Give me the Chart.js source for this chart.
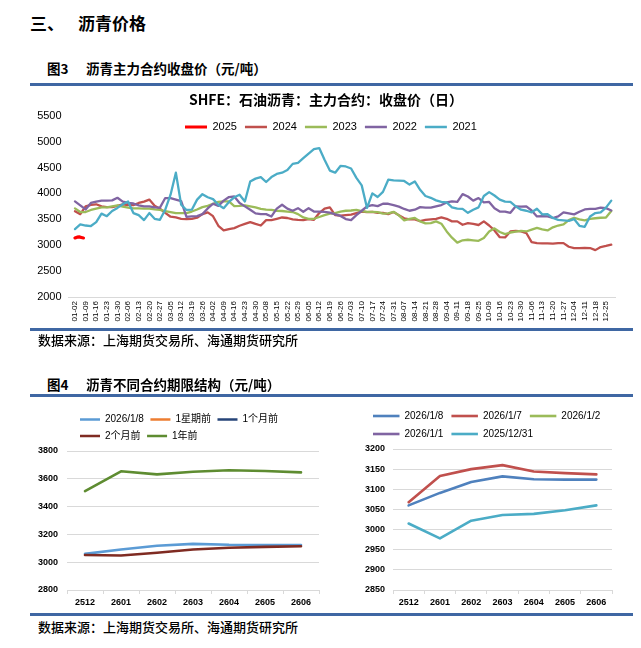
<!DOCTYPE html>
<html><head><meta charset="utf-8">
<script src="https://cdn.jsdelivr.net/npm/chart.js@4.4.1/dist/chart.umd.min.js"></script>
<style>
html,body{margin:0;padding:0;background:#fff;}
body{width:641px;height:648px;position:relative;overflow:hidden;font-family:'Noto Sans CJK SC','Liberation Sans',sans-serif;color:#000;}
.t{position:absolute;white-space:nowrap;z-index:2;}
.h{font-size:17px;line-height:17px;font-weight:700;}
.cap{font-size:13.5px;line-height:14px;font-weight:700;}
.src{font-size:13px;line-height:13px;font-weight:500;}
.rule{position:absolute;left:30px;width:603px;height:3px;background:#3F67A3;z-index:2;}
canvas{position:absolute;z-index:1;}
</style></head><body>
<div class="t h" style="left:30px;top:14px">三、</div>
<div class="t h" style="left:78px;top:14px">沥青价格</div>
<div class="t cap" style="left:47px;top:61px">图3</div>
<div class="t cap" style="left:86px;top:61px">沥青主力合约收盘价（元/吨）</div>
<div class="rule" style="top:83px"></div>
<canvas id="c1" width="641" height="268" style="left:0;top:88px;width:641px;height:268px"></canvas>
<div class="rule" style="top:328px"></div>
<div class="t src" style="left:38px;top:333px">数据来源：上海期货交易所、海通期货研究所</div>
<div class="t cap" style="left:47px;top:377px">图4</div>
<div class="t cap" style="left:86px;top:377px">沥青不同合约期限结构（元/吨）</div>
<div class="rule" style="top:394px"></div>
<canvas id="c2" width="320" height="215" style="left:0;top:395px;width:320px;height:215px"></canvas>
<canvas id="c3" width="321" height="215" style="left:320px;top:395px;width:321px;height:215px"></canvas>
<div class="rule" style="top:613px"></div>
<div class="t src" style="left:38px;top:620px">数据来源：上海期货交易所、海通期货研究所</div>
<script>
// ---------- main chart data (x step: half label interval) ----------
const weekLabels = ['01-02','01-09','01-16','01-23','01-30','02-06','02-13','02-20','02-27','03-05','03-12','03-19','03-26','04-02','04-09','04-16','04-23','04-30','05-08','05-15','05-22','05-29','06-05','06-12','06-19','06-26','07-03','07-10','07-17','07-24','07-31','08-07','08-14','08-21','08-28','09-04','09-11','09-18','09-25','10-09','10-16','10-23','10-30','11-06','11-13','11-20','11-27','12-04','12-11','12-18','12-25'];
const seriesNames = ['2025','2024','2023','2022','2021'];
const s2025 = [3140,3155,3160,3150,3140];
const s2024 = [3655,3600,3750,3780,3790,3750,3735,3735,3760,3790,
  3775,3775,3815,3840,3880,3760,3705,3625,3550,3535,
  3510,3505,3510,3530,3600,3635,3560,3375,3285,3310,
  3330,3375,3410,3445,3410,3380,3485,3485,3510,3535,
  3525,3500,3490,3485,3505,3490,3620,3705,3730,3580,
  3570,3580,3590,3620,3650,3640,3645,3625,3625,3600,
  3640,3580,3520,3500,3500,3465,3490,3500,3510,3535,
  3510,3460,3460,3395,3425,3410,3390,3460,3380,3285,
  3155,3150,3265,3275,3265,3235,3060,3040,3035,3035,
  3030,3040,3040,2970,2945,2945,2950,2945,2905,2965,
  2985,3010];
const s2023 = [3710,3640,3640,3680,3705,3730,3730,3750,3770,3745,
  3725,3710,3710,3705,3705,3690,3680,3660,3640,3620,
  3620,3620,3650,3690,3735,3760,3800,3835,3845,3845,
  3755,3760,3770,3750,3730,3700,3685,3680,3665,3660,
  3650,3640,3600,3535,3510,3510,3545,3580,3610,3620,
  3650,3665,3670,3680,3660,3645,3645,3640,3610,3615,
  3645,3575,3480,3510,3525,3460,3420,3425,3460,3415,
  3265,3145,3050,3095,3105,3095,3085,3140,3265,3325,
  3255,3215,3245,3260,3275,3265,3300,3335,3305,3285,
  3345,3380,3400,3485,3530,3500,3480,3510,3520,3530,
  3535,3660];
const s2022 = [3845,3770,3690,3815,3840,3860,3860,3865,3915,3840,
  3815,3805,3770,3750,3750,3730,3725,3910,3910,3880,
  3850,3545,3555,3560,3600,3710,3800,3760,3860,3930,
  3940,3815,3750,3685,3615,3600,3600,3555,3705,3780,
  3705,3665,3715,3645,3715,3650,3650,3645,3630,3595,
  3565,3505,3485,3580,3665,3750,3775,3755,3800,3800,
  3775,3745,3700,3665,3685,3735,3725,3725,3750,3775,
  3825,3845,3835,3985,3940,3860,3910,3825,3835,3715,
  3650,3650,3625,3750,3745,3750,3670,3555,3560,3555,
  3525,3555,3635,3615,3595,3645,3690,3700,3700,3725,
  3715,3670];
const s2021 = [3310,3400,3380,3370,3445,3610,3560,3660,3720,3790,
  3845,3620,3580,3485,3620,3510,3490,3685,3975,4400,
  3780,3680,3685,3880,3985,3925,3890,3780,3715,3835,
  3925,3975,3845,4230,4285,4315,4220,4315,4375,4400,
  4450,4570,4590,4680,4770,4855,4875,4650,4440,4400,
  4530,4520,4480,4300,4155,3720,4000,3930,4030,4265,
  4250,4245,4240,4170,4230,4070,3950,3915,3865,3835,
  3825,3730,3705,3700,3625,3685,3730,3950,4025,3960,
  3880,3840,3835,3750,3685,3665,3635,3705,3595,3600,
  3525,3490,3480,3470,3505,3375,3355,3555,3620,3635,
  3725,3860];
const yTicksMain = [2000, 5500, 500]; // min, max, step

// ---------- term structure data ----------
const contracts = ['2512','2601','2602','2603','2604','2605','2606'];
const leftNames = ['2026/1/8','1星期前','1个月前','2个月前','1年前'];
const L_0108   = [3060,3091,3118,3132,3125,3124,3124];
const L_week   = [];
const L_month1 = [];
const L_month2 = [3052,3048,3068,3091,3104,3110,3115];
const L_year   = [3512,3654,3632,3651,3662,3656,3646];
const rightNames = ['2026/1/8','2026/1/7','2026/1/2','2026/1/1','2025/12/31'];
const R_0108 = [3060,3091,3118,3132,3125,3124,3124];
const R_0107 = [3068,3133,3150,3160,3144,3140,3137];
const R_0102 = [];
const R_0101 = [];
const R_1231 = [3015,2978,3022,3036,3039,3048,3060];

Chart.defaults.font.family = "'Liberation Sans','Noto Sans CJK SC',sans-serif";
Chart.defaults.color = '#000';

const placeBoxes = {
  id: 'placeBoxes',
  afterLayout(chart, args, opts) {
    const lg = chart.legend;
    if (lg && opts.legendLeft !== undefined) { const w = lg.right - lg.left; lg.left = opts.legendLeft; lg.right = lg.left + w; }
    if (lg && opts.legendTop !== undefined) { const h = lg.bottom - lg.top; lg.top = opts.legendTop; lg.bottom = lg.top + h; }
    const tb = chart.titleBlock;
    if (tb && opts.titleShift) { tb.left += opts.titleShift; tb.right += opts.titleShift; }
  }
};
const byIndex = (a, b) => a.datasetIndex - b.datasetIndex;
const plain = v => String(v);
const toPts = (arr, step) => arr.map((v, i) => ({x: i * step, y: v}));
const mainColors = ['#FF0000','#C0504D','#9BBB59','#8064A2','#4BACC6'];
const mainData = [toPts(s2025, 0.2), toPts(s2024, 0.5), toPts(s2023, 0.5), toPts(s2022, 0.5), toPts(s2021, 0.5)];

new Chart(document.getElementById('c1'), {
  type: 'line',
  data: { datasets: seriesNames.map((n, i) => ({
    label: n, data: mainData[i], borderColor: mainColors[i], backgroundColor: mainColors[i],
    borderWidth: i === 0 ? 3.2 : 2.3, pointRadius: 0, order: -i, fill: false
  })) },
  options: {
    responsive: false, animation: false,
    layout: { padding: { left: 0, right: 26, top: 0, bottom: 0 } },
    elements: { line: { tension: 0, borderCapStyle: 'round', borderJoinStyle: 'round' } },
    plugins: {
      title: { display: true, text: 'SHFE：石油沥青：主力合约：收盘价（日）', color: '#000',
        font: { family: "'Noto Sans CJK SC',sans-serif", size: 14, weight: 'bold' },
        padding: { top: 3.6, bottom: 7.3 } },
      legend: { position: 'bottom', align: 'start',
        labels: { usePointStyle: true, pointStyle: 'line', pointStyleWidth: 22, padding: 8, color: '#000', font: { size: 11 }, sort: byIndex } },
      tooltip: { enabled: false },
      placeBoxes: { legendLeft: 177, legendTop: 25.5, titleShift: 18.5 }
    },
    scales: {
      x: { type: 'linear', min: -0.6, max: 50.85,
        afterBuildTicks: s => { s.ticks = weekLabels.map((_, i) => ({ value: i })); },
        afterFit: s => { s.height = 30; },
        grid: { display: false, drawTicks: false },
        border: { display: true, color: '#D9D9D9' },
        ticks: { minRotation: 90, maxRotation: 90, autoSkip: false, padding: 4, color: '#000', font: { size: 8 },
          callback: v => (weekLabels[v] !== undefined ? weekLabels[v] : '') } },
      y: { min: yTicksMain[0], max: yTicksMain[1],
        afterFit: s => { s.width = 68.6; },
        grid: { display: false, drawTicks: false }, border: { display: false },
        ticks: { stepSize: yTicksMain[2], padding: 7, color: '#000', font: { size: 11 }, callback: plain } }
    }
  },
  plugins: [placeBoxes]
});

function termChart(id, names, sets, colors, yMin, yMax, step, cfg) {
  return new Chart(document.getElementById(id), {
    type: 'line',
    data: { labels: contracts, datasets: names.map((n, i) => ({
      label: n, data: sets[i], borderColor: colors[i], backgroundColor: colors[i],
      borderWidth: 2.6, pointRadius: 0, order: -i, fill: false })) },
    options: {
      responsive: false, animation: false,
      layout: { padding: cfg.padding },
      elements: { line: { tension: 0, borderCapStyle: 'round', borderJoinStyle: 'round' } },
      plugins: {
        legend: { position: 'top', fullSize: cfg.fullSize, align: 'start',
          labels: { usePointStyle: true, pointStyle: 'line', pointStyleWidth: cfg.boxW, padding: cfg.pad, color: '#000', font: { size: 10 }, sort: byIndex } },
        tooltip: { enabled: false },
        placeBoxes: { legendLeft: cfg.legendLeft }
      },
      scales: {
        x: { type: 'category', offset: true,
          afterFit: s => { s.height = 20; },
          grid: { display: true, offset: true, drawOnChartArea: false, drawTicks: true, tickLength: 4, color: '#D9D9D9' },
          border: { display: true, color: '#D9D9D9' },
          ticks: { padding: 3, color: '#000', font: { size: 9, weight: 'bold' }, maxRotation: 0, autoSkip: false } },
        y: { min: yMin, max: yMax,
          afterFit: s => { s.width = cfg.yW; },
          grid: { color: '#D9D9D9', drawTicks: false }, border: { display: false },
          ticks: { stepSize: step, padding: cfg.yPad, color: '#000', font: { size: 9, weight: 'bold' }, callback: plain } }
      }
    },
    plugins: [placeBoxes]
  });
}

termChart('c2', leftNames, [L_0108, L_week, L_month1, L_month2, L_year],
  ['#5B9BD5','#ED7D31','#264478','#7F2B22','#5E8C31'], 2800, 3800, 200,
  { padding: { left: 0, right: 1, top: 13, bottom: 0 }, fullSize: false, boxW: 20, pad: 6.5, legendLeft: 73.5, yW: 67, yPad: 9 });

termChart('c3', rightNames, [R_0108, R_0107, R_0102, R_0101, R_1231],
  ['#4F81BD','#C0504D','#9BBB59','#8064A2','#4BACC6'], 2850, 3200, 50,
  { padding: { left: 0, right: 29, top: 8, bottom: 0 }, fullSize: true, boxW: 26.5, pad: 8, legendLeft: 45, yW: 73, yPad: 8 });
</script>
</body></html>
